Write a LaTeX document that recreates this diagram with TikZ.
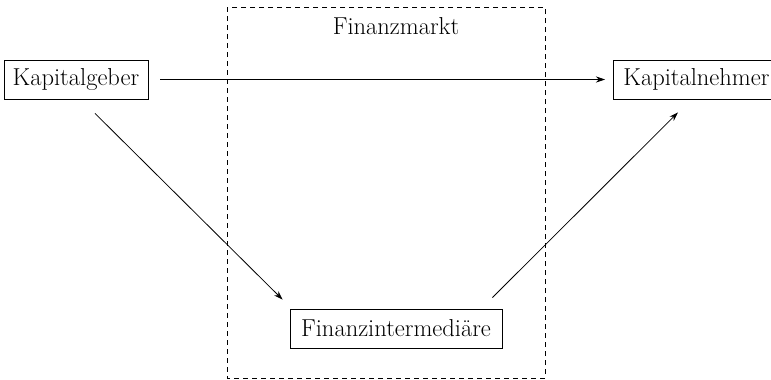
\documentclass[tikz,border=0pt]{standalone}
\usepackage{fontspec}
\usetikzlibrary{arrows.meta}
\begin{document}
\begin{tikzpicture}[x=1pt,y=-1pt,
  box/.style={draw,line width=0.8pt,minimum height=39pt,inner xsep=8pt,inner ysep=0pt,font=\fontsize{24.5}{29}\selectfont},
  lbl/.style={font=\fontsize{24.5}{29}\selectfont},
  conn/.style={line width=0.8pt,-{Stealth[length=9pt,width=6pt]}},
  dashbox/.style={draw,line width=1pt,dash pattern=on 5pt off 4pt}]
\clip (0,0) rectangle (771,380);
\useasboundingbox (0,0) rectangle (771,380);
\draw[dashbox] (227,7) rectangle (545,378);
\node[lbl] (fm) at (396,26) {Finanzmarkt};
\node[box,minimum width=144pt] (kg) at (76,79.5) {Kapitalgeber};
\node[box,anchor=west,inner xsep=10pt,text width=155pt,align=left] (kn) at (613,79.5) {Kapitalnehmer};
\node[box,minimum width=212pt] (fi) at (396,328.5) {Finanzintermediäre};
\draw[conn] ([xshift=12pt]kg.east) -- ([xshift=-8pt]kn.west);
\draw[conn] ([xshift=19pt,yshift=-14pt]kg.south) -- ([xshift=-7pt,yshift=9pt]fi.north west);
\draw[conn] ([xshift=-10pt,yshift=11pt]fi.north east) -- ([xshift=65pt,yshift=-13pt]kn.south west);
\end{tikzpicture}
\end{document}
